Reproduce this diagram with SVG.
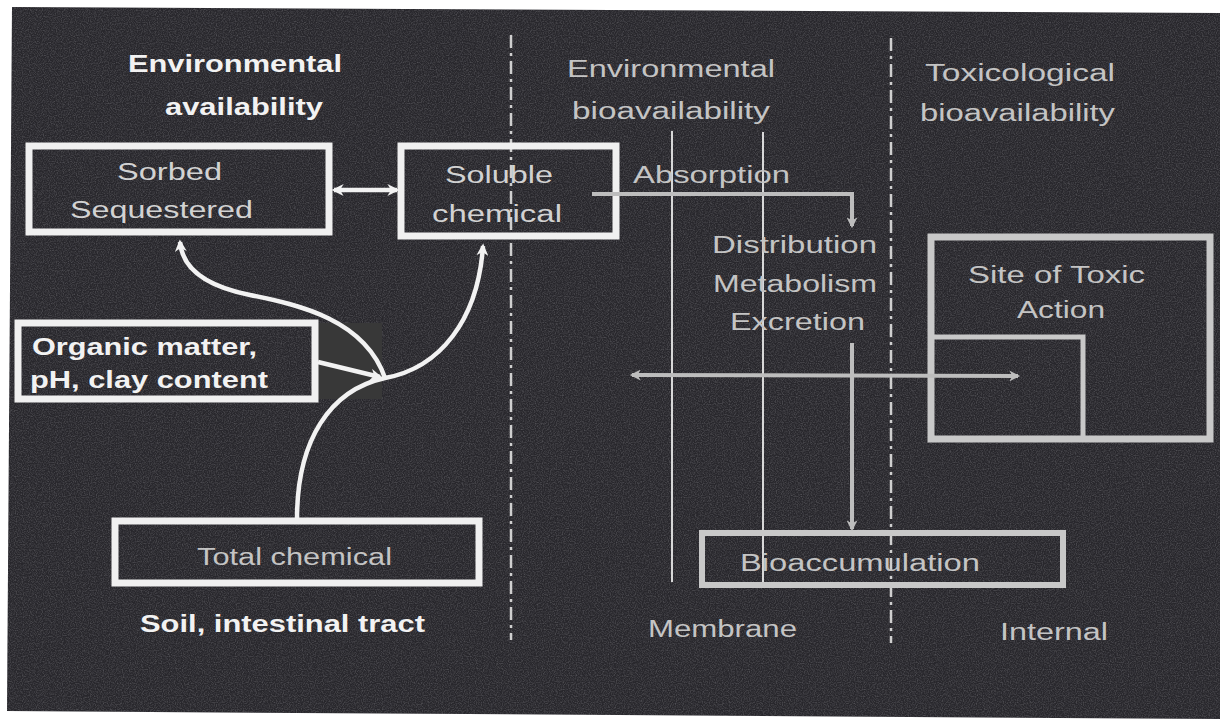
<svg xmlns="http://www.w3.org/2000/svg" width="1220" height="719" viewBox="0 0 1220 719">
<defs>
<style>
.bt{font-family:"Liberation Sans",Arial,sans-serif;font-weight:bold;font-size:24px;fill:#f2f2f2}
.nt{font-family:"Liberation Sans",Arial,sans-serif;font-size:23px;fill:#d2d2d2}
.gt{font-family:"Liberation Sans",Arial,sans-serif;font-size:23px;fill:#c4c4c4}
.wbox{fill:none;stroke:#f0f0f0;stroke-width:7}
.gbox{fill:none;stroke:#c8c8c8;stroke-width:6}
.dash{fill:none;stroke:#cfcfcf;stroke-width:2.5;stroke-dasharray:13 5 3 5}
.thin{fill:none;stroke:#d8d8d8;stroke-width:2}
.wc{fill:none;stroke:#f2f2f2;stroke-width:4.5}
.gc{fill:none;stroke:#bdbdbd;stroke-width:4}
</style>
<marker id="aw" viewBox="0 0 10 10" refX="8" refY="5" markerUnits="userSpaceOnUse" markerWidth="13" markerHeight="12" orient="auto-start-reverse">
<path d="M0,0 L10,5 L0,10 L3,5 z" fill="#f2f2f2"/>
</marker>
<marker id="ag" viewBox="0 0 10 10" refX="8" refY="5" markerUnits="userSpaceOnUse" markerWidth="13" markerHeight="11" orient="auto-start-reverse">
<path d="M0,0 L10,5 L0,10 L3,5 z" fill="#bdbdbd"/>
</marker>
<filter id="noise" x="0" y="0" width="100%" height="100%">
<feTurbulence type="fractalNoise" baseFrequency="0.85" numOctaves="2" seed="3" result="n"/>
<feColorMatrix type="matrix" values="0 0 0 0 0.75  0 0 0 0 0.75  0 0 0 0 0.78  0 0 0 1.2 -0.45"/>
</filter>
<clipPath id="bgclip"><polygon points="12,7 1220,13 1220,719 7,711"/></clipPath>
</defs>
<rect width="1220" height="719" fill="#ffffff"/>
<polygon points="12,7 1220,13 1220,719 7,711" fill="#28272c"/>
<rect width="1220" height="719" filter="url(#noise)" clip-path="url(#bgclip)" opacity="0.35"/>

<g id="headers">
<text class="bt" x="128" y="72" textLength="214" lengthAdjust="spacingAndGlyphs">Environmental</text>
<text class="bt" x="165" y="115" textLength="158" lengthAdjust="spacingAndGlyphs">availability</text>
<text class="gt" x="567" y="77" textLength="208" lengthAdjust="spacingAndGlyphs">Environmental</text>
<text class="gt" x="572" y="119" textLength="198" lengthAdjust="spacingAndGlyphs">bioavailability</text>
<text class="gt" x="925" y="81" textLength="190" lengthAdjust="spacingAndGlyphs">Toxicological</text>
<text class="gt" x="920" y="121" textLength="195" lengthAdjust="spacingAndGlyphs">bioavailability</text>
<text class="bt" x="140" y="632" textLength="285" lengthAdjust="spacingAndGlyphs">Soil, intestinal tract</text>
<text class="gt" x="648" y="637" textLength="149" lengthAdjust="spacingAndGlyphs">Membrane</text>
<text class="gt" x="1000" y="640" textLength="108" lengthAdjust="spacingAndGlyphs">Internal</text>
</g>

<g id="dividers">
<line class="dash" x1="511" y1="35" x2="511" y2="640"/>
<line class="dash" x1="891" y1="38" x2="891" y2="643"/>
<line class="thin" x1="672" y1="131" x2="672" y2="582"/>
<line class="thin" x1="763" y1="132" x2="763" y2="584"/>
</g>

<g id="organic-bg">
<rect x="318" y="323" width="64" height="76" fill="#383838"/>
</g>

<g id="sorbed">
<rect class="wbox" x="29" y="146" width="300" height="86"/>
<text class="nt" x="117" y="180" textLength="105" lengthAdjust="spacingAndGlyphs">Sorbed</text>
<text class="nt" x="70" y="218" textLength="183" lengthAdjust="spacingAndGlyphs">Sequestered</text>
</g>

<g id="soluble">
<rect class="wbox" x="401" y="146" width="215" height="90"/>
<text class="nt" x="445" y="183" textLength="108" lengthAdjust="spacingAndGlyphs">Soluble</text>
<text class="nt" x="432" y="222" textLength="130" lengthAdjust="spacingAndGlyphs">chemical</text>
</g>

<g id="organic">
<rect class="wbox" x="18" y="323" width="297" height="76"/>
<text class="bt" x="32" y="355" textLength="225" lengthAdjust="spacingAndGlyphs">Organic matter,</text>
<text class="bt" x="30" y="388" textLength="238" lengthAdjust="spacingAndGlyphs">pH, clay content</text>
</g>

<g id="total">
<rect class="wbox" x="115" y="521" width="364" height="62"/>
<text class="gt" x="197" y="565" textLength="195" lengthAdjust="spacingAndGlyphs">Total chemical</text>
</g>

<g id="absorption-label">
<text class="gt" x="633" y="183" textLength="157" lengthAdjust="spacingAndGlyphs">Absorption</text>
</g>

<g id="dme">
<text class="gt" x="712" y="253" textLength="165" lengthAdjust="spacingAndGlyphs">Distribution</text>
<text class="gt" x="713" y="292" textLength="164" lengthAdjust="spacingAndGlyphs">Metabolism</text>
<text class="gt" x="730" y="330" textLength="135" lengthAdjust="spacingAndGlyphs">Excretion</text>
</g>

<g id="site">
<rect x="931" y="237" width="279" height="202" fill="none" stroke="#c8c8c8" stroke-width="7"/>
<polyline points="931,337 1083,337 1083,439" fill="none" stroke="#c8c8c8" stroke-width="5"/>
<text class="gt" x="968" y="283" textLength="177" lengthAdjust="spacingAndGlyphs">Site of Toxic</text>
<text class="gt" x="1017" y="318" textLength="88" lengthAdjust="spacingAndGlyphs">Action</text>
</g>

<g id="bioaccumulation">
<rect class="gbox" x="702" y="533" width="361" height="52"/>
<text class="gt" x="740" y="571" textLength="240" lengthAdjust="spacingAndGlyphs">Bioaccumulation</text>
</g>

<g id="connectors">
<line class="wc" x1="334" y1="190" x2="397" y2="190" stroke-width="4" marker-start="url(#aw)" marker-end="url(#aw)"/>
<path class="wc" d="M297,519 C297,440 330,390 385,378 C440,368 478,320 483,246" marker-end="url(#aw)"/>
<path class="wc" d="M385,378 C365,320 300,305 250,295 C200,285 182,265 180,242" marker-end="url(#aw)"/>
<line class="wc" x1="318" y1="362" x2="380" y2="377" marker-end="url(#aw)"/>
<polyline class="gc" points="592,194 852,194 852,226" marker-end="url(#ag)"/>
<line class="gc" x1="852" y1="343" x2="852" y2="529" marker-end="url(#ag)"/>
<line class="gc" x1="632" y1="375" x2="1018" y2="376" marker-start="url(#ag)" marker-end="url(#ag)"/>
</g>
</svg>
